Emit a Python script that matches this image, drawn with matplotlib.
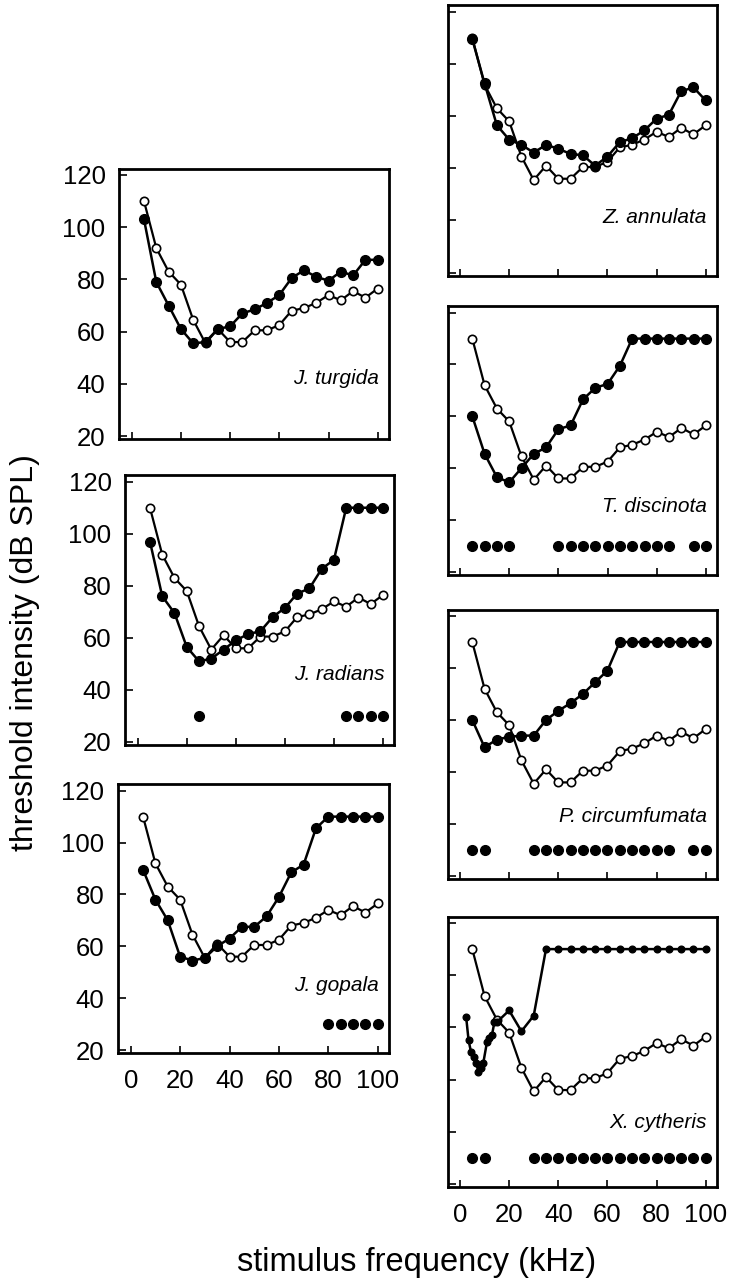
import numpy as np
import matplotlib
matplotlib.use('Agg')
import matplotlib.pyplot as plt

plt.rcParams['font.family'] = ['Liberation Sans', 'DejaVu Sans']

W, H = 731, 1287

# stimulus frequencies (kHz)
freq = [5, 10, 15, 20, 25, 30, 35, 40, 45, 50, 55, 60, 65, 70, 75, 80, 85, 90, 95, 100]

# open circles: the same reference curve is drawn in every panel
open_db = [110, 92, 83, 78, 64.5, 55.5, 61, 56, 56, 60.5, 60.5, 62.5, 68, 69, 71, 74, 72, 75.5, 73, 76.5]

# filled circles, one curve per species
turgida = [103, 79, 70, 61, 55.5, 56, 61, 62, 67, 68.5, 71, 74, 80.5, 83.5, 81, 79.5, 83, 81.5, 87.5, 87.5]
radians = [97, 76, 69.5, 56.5, 51, 52, 55.5, 59, 61.5, 62.5, 68, 71.5, 77, 79, 86.5, 90, 110, 110, 110, 110]
gopala = [89.5, 78, 70, 56, 54.5, 55.5, 60, 63, 67.5, 67.5, 71.5, 79, 88.5, 91.5, 105.5, 110, 110, 110, 110, 110]
annulata = [109.5, 92.5, 76.5, 71, 69, 66, 69, 67.5, 65.5, 65, 61, 64.5, 70, 71.5, 74.5, 79, 80.5, 89.5, 91, 86]
discinota = [80, 65.5, 56.5, 54.5, 60, 65.5, 68, 75, 76.5, 86.5, 91, 92.5, 99.5, 110, 110, 110, 110, 110, 110, 110]
circumfumata = [80, 69.5, 72.5, 73.5, 74, 74, 80, 83.5, 86.5, 90, 94.5, 99, 110, 110, 110, 110, 110, 110, 110, 110]

# X. cytheris was sampled more finely below 15 kHz
cytheris_freq = [2.5, 3.5, 4.5, 5.5, 6.5, 7.5, 8.5, 9.5, 11, 12, 13, 14, 15, 20, 25, 30,
                 35, 40, 45, 50, 55, 60, 65, 70, 75, 80, 85, 90, 95, 100]
cytheris = [84, 75, 70.5, 68.5, 66.5, 63, 64.5, 66.5, 74.5, 76, 77, 82, 82, 86.5, 78.5, 84.5,
            110, 110, 110, 110, 110, 110, 110, 110, 110, 110, 110, 110, 110, 110]

# frequencies marked by the row of dots near the bottom of a panel
dots_radians = [25, 85, 90, 95, 100]
dots_gopala = [80, 85, 90, 95, 100]
dots_discinota = [5, 10, 15, 20, 40, 45, 50, 55, 60, 65, 70, 75, 80, 85, 95, 100]
dots_circumfumata = [5, 10, 30, 35, 40, 45, 50, 55, 60, 65, 70, 75, 80, 85, 95, 100]
dots_cytheris = [5, 10, 30, 35, 40, 45, 50, 55, 60, 65, 70, 75, 80, 85, 90, 95, 100]
dot_level = 30

yticks = [20, 40, 60, 80, 100, 120]
xticks = [0, 20, 40, 60, 80, 100]
XMIN, XMAX = -5, 104.4
YMIN, YMAX = 18.7, 122.4

# name, x, filled curve, dots, pixel pos of (x=0, x=100, y=120, y=20), label y, y labels, x labels
panels = [
    ('J. turgida', freq, turgida, None, (131.7, 377.7, 175, 436), 42, True, False, 7),
    ('J. radians', freq, radians, dots_radians, (137.7, 383, 481.7, 742), 46, True, False, 7),
    ('J. gopala', freq, gopala, dots_gopala, (130.7, 377.7, 790.7, 1050), 45, True, True, 7),
    ('Z. annulata', freq, annulata, None, (460, 705.7, 11.7, 272.7), 41, False, False, 7),
    ('T. discinota', freq, discinota, dots_discinota, (460, 706, 312.7, 571.7), 45, False, False, 7),
    ('P. circumfumata', freq, circumfumata, dots_circumfumata, (460, 705.7, 616, 876), 43, False, False, 7),
    ('X. cytheris', cytheris_freq, cytheris, dots_cytheris, (460, 705.7, 923, 1184), 43.5, False, True, 4.8),
]

fig = plt.figure(figsize=(W / 100, H / 100), dpi=100)

for name, fx, fy, dots, px, label_y, show_y, show_x, ms in panels:
    x0, x100, y120, y20 = px
    sx = (x100 - x0) / 100.0
    sy = (y20 - y120) / 100.0
    left = x0 + XMIN * sx
    right = x0 + XMAX * sx
    top = y120 - (YMAX - 120) * sy
    bottom = y120 + (120 - YMIN) * sy
    ax = fig.add_axes([left / W, 1 - bottom / H, (right - left) / W, (bottom - top) / H])

    ax.plot(freq, open_db, '-o', color='black', lw=1.6, ms=6,
            mfc='white', mec='black', mew=1.2, zorder=2)
    ax.plot(fx, fy, '-o', color='black', lw=1.8, ms=ms, mfc='black', mec='black', zorder=3)
    if dots is not None:
        ax.plot(dots, [dot_level] * len(dots), 'o', color='black', ms=7, ls='none')

    ax.text(100.5, label_y, name, ha='right', va='center', style='italic', fontsize=15)

    ax.set_xlim(XMIN, XMAX)
    ax.set_ylim(YMIN, YMAX)
    ax.set_xticks(xticks)
    ax.set_yticks(yticks)
    for s in ax.spines.values():
        s.set_linewidth(2)
    ax.tick_params(axis='y', direction='in', length=6, width=1.2, pad=10,
                   labelsize=18.5, labelleft=show_y)
    ax.tick_params(axis='x', direction='in', length=5, width=1.2, pad=11,
                   labelsize=18.5, labelbottom=show_x)

fig.text(25 / W, 1 - 653 / H, 'threshold intensity (dB SPL)', rotation=90,
         ha='center', va='center', fontsize=23)
fig.text(417 / W, 1 - 1263 / H, 'stimulus frequency (kHz)',
         ha='center', va='center', fontsize=23.5)

fig.savefig('out.png', dpi=100)
